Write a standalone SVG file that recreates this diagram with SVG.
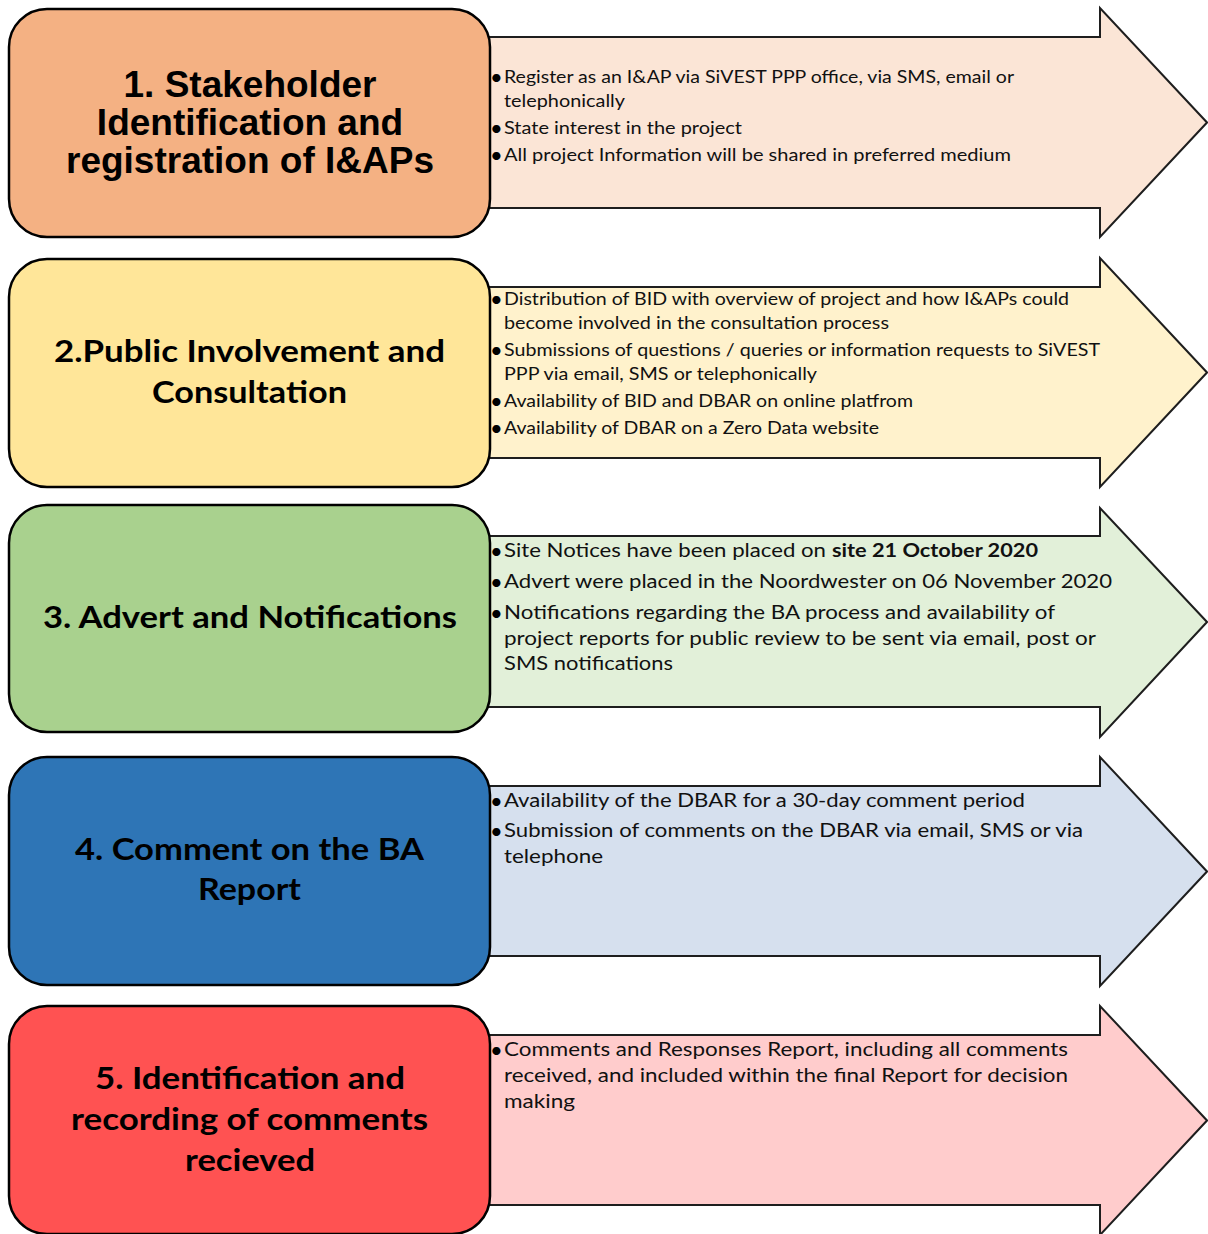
<svg xmlns="http://www.w3.org/2000/svg" width="1208" height="1234" viewBox="0 0 1208 1234">
<style>
  .arrow { stroke: #1e1e1e; stroke-width: 2; stroke-linejoin: miter; }
  .box { stroke: #000; stroke-width: 2.5; }
  .t1 { font-family: "Liberation Sans", Arial, sans-serif; font-weight: bold; font-size: 37px; fill: #000; text-anchor: middle; }
  .tt { font-family: Lato, "Open Sans", sans-serif; font-weight: bold; font-size: 30.5px; fill: #000; }
  .b { font-family: Lato, "Open Sans", sans-serif; font-size: 16.5px; fill: #111; }
  .bl { font-family: Lato, "Open Sans", sans-serif; font-size: 18.5px; fill: #111; }
  .dot { font-family: Lato, "Open Sans", sans-serif; font-size: 22px; fill: #000; }
  .bold { font-weight: bold; }
</style>
<rect width="1208" height="1234" fill="#ffffff"/>

<g id="connectors">
  <path class="arrow" fill="#FBE5D6" d="M470,37 H1100 V8 L1207,122.5 L1100,237 V208 H470 Z"/>
  <path class="arrow" fill="#FFF2CC" d="M470,287 H1100 V258 L1207,372.5 L1100,487 V458 H470 Z"/>
  <path class="arrow" fill="#E2F0D9" d="M470,536 H1100 V508 L1207,622 L1100,737 V707 H470 Z"/>
  <path class="arrow" fill="#D6E0EE" d="M470,786 H1100 V757 L1207,871.5 L1100,986 V956 H470 Z"/>
  <path class="arrow" fill="#FFCCCC" d="M470,1035 H1100 V1006 L1207,1120.5 L1100,1235 V1205 H470 Z"/>
</g>

<g id="node1">
  <rect class="box" x="9" y="9" width="481" height="228" rx="38" fill="#F4B183"/>
  <text class="t1" x="250" y="97">1. Stakeholder</text>
  <text class="t1" x="250" y="135">Identification and</text>
  <text class="t1" x="250" y="173">registration of I&amp;APs</text>
</g>
<g id="text1">
  <text class="dot" x="490" y="85">•</text>
  <text class="b" x="504" y="83" textLength="510" lengthAdjust="spacingAndGlyphs">Register as an I&amp;AP via SiVEST PPP office, via SMS, email or</text>
  <text class="b" x="504" y="107" textLength="121" lengthAdjust="spacingAndGlyphs">telephonically</text>
  <text class="dot" x="490" y="136">•</text>
  <text class="b" x="504" y="134" textLength="238" lengthAdjust="spacingAndGlyphs">State interest in the project</text>
  <text class="dot" x="490" y="163">•</text>
  <text class="b" x="504" y="161" textLength="507" lengthAdjust="spacingAndGlyphs">All project Information will be shared in preferred medium</text>
</g>

<g id="node2">
  <rect class="box" x="9" y="259" width="481" height="228" rx="38" fill="#FFE699"/>
  <text class="tt" x="54" y="362" textLength="391" lengthAdjust="spacingAndGlyphs">2.Public Involvement and</text>
  <text class="tt" x="152" y="403" textLength="195" lengthAdjust="spacingAndGlyphs">Consultation</text>
</g>
<g id="text2">
  <text class="dot" x="490" y="307">•</text>
  <text class="b" x="504" y="305" textLength="565" lengthAdjust="spacingAndGlyphs">Distribution of BID with overview of project and how I&amp;APs could</text>
  <text class="b" x="504" y="329" textLength="385" lengthAdjust="spacingAndGlyphs">become involved in the consultation process</text>
  <text class="dot" x="490" y="358">•</text>
  <text class="b" x="504" y="356" textLength="596" lengthAdjust="spacingAndGlyphs">Submissions of questions / queries or information requests to SiVEST</text>
  <text class="b" x="504" y="380" textLength="313" lengthAdjust="spacingAndGlyphs">PPP via email, SMS or telephonically</text>
  <text class="dot" x="490" y="409">•</text>
  <text class="b" x="504" y="407" textLength="409" lengthAdjust="spacingAndGlyphs">Availability of BID and DBAR on online platfrom</text>
  <text class="dot" x="490" y="436">•</text>
  <text class="b" x="504" y="434" textLength="375" lengthAdjust="spacingAndGlyphs">Availability of DBAR on a Zero Data website</text>
</g>

<g id="node3">
  <rect class="box" x="9" y="505" width="481" height="227" rx="38" fill="#A9D18E"/>
  <text class="tt" x="43" y="628" textLength="414" lengthAdjust="spacingAndGlyphs">3. Advert and Notifications</text>
</g>
<g id="text3">
  <text class="dot" x="490" y="559">•</text>
  <text class="bl" y="557"><tspan x="504" textLength="322" lengthAdjust="spacingAndGlyphs">Site Notices have been placed on</tspan><tspan class="bold" x="832" textLength="206" lengthAdjust="spacingAndGlyphs">site 21 October 2020</tspan></text>
  <text class="dot" x="490" y="590">•</text>
  <text class="bl" x="504" y="588" textLength="608" lengthAdjust="spacingAndGlyphs">Advert were placed in the Noordwester on 06 November 2020</text>
  <text class="dot" x="490" y="621">•</text>
  <text class="bl" x="504" y="619" textLength="551" lengthAdjust="spacingAndGlyphs">Notifications regarding the BA process and availability of</text>
  <text class="bl" x="504" y="645" textLength="592" lengthAdjust="spacingAndGlyphs">project reports for public review to be sent via email, post or</text>
  <text class="bl" x="504" y="670" textLength="169" lengthAdjust="spacingAndGlyphs">SMS notifications</text>
</g>

<g id="node4">
  <rect class="box" x="9" y="757" width="481" height="228" rx="38" fill="#2E75B6"/>
  <text class="tt" x="75" y="860" textLength="349" lengthAdjust="spacingAndGlyphs">4. Comment on the BA</text>
  <text class="tt" x="198" y="900" textLength="103" lengthAdjust="spacingAndGlyphs">Report</text>
</g>
<g id="text4">
  <text class="dot" x="490" y="809">•</text>
  <text class="bl" x="504" y="807" textLength="521" lengthAdjust="spacingAndGlyphs">Availability of the DBAR for a 30-day comment period</text>
  <text class="dot" x="490" y="839">•</text>
  <text class="bl" x="504" y="837" textLength="579" lengthAdjust="spacingAndGlyphs">Submission of comments on the DBAR via email, SMS or via</text>
  <text class="bl" x="504" y="863" textLength="99" lengthAdjust="spacingAndGlyphs">telephone</text>
</g>

<g id="node5">
  <rect class="box" x="9" y="1006" width="481" height="228" rx="38" fill="#FF5252"/>
  <text class="tt" x="95" y="1089" textLength="310" lengthAdjust="spacingAndGlyphs">5. Identification and</text>
  <text class="tt" x="71" y="1130" textLength="357" lengthAdjust="spacingAndGlyphs">recording of comments</text>
  <text class="tt" x="185" y="1171" textLength="130" lengthAdjust="spacingAndGlyphs">recieved</text>
</g>
<g id="text5">
  <text class="dot" x="490" y="1058">•</text>
  <text class="bl" x="504" y="1056" textLength="564" lengthAdjust="spacingAndGlyphs">Comments and Responses Report, including all comments</text>
  <text class="bl" x="504" y="1082" textLength="564" lengthAdjust="spacingAndGlyphs">received, and included within the final Report for decision</text>
  <text class="bl" x="504" y="1108" textLength="71" lengthAdjust="spacingAndGlyphs">making</text>
</g>
</svg>
